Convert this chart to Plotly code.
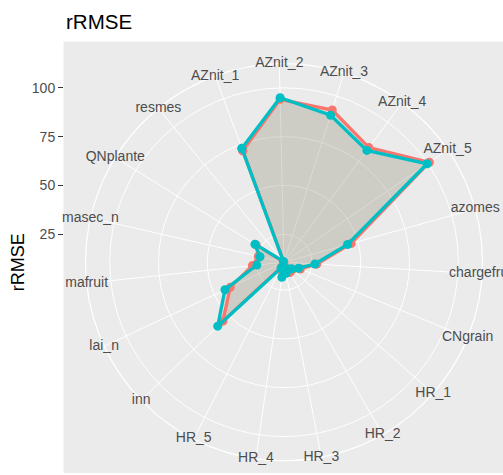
import plotly.graph_objects as go

# Variables, clockwise from the top of the radar
categories = ["AZnit_1", "AZnit_2", "AZnit_3", "AZnit_4", "AZnit_5", "azomes",
              "chargefruit", "CNgrain", "HR_1", "HR_2", "HR_3", "HR_4", "HR_5",
              "inn", "lai_n", "mafruit", "masec_n", "QNplante", "resmes"]

# rRMSE of the two model versions
rrmse_red = [71.5, 94.2, 92.5, 83.8, 101.1, 46.4, 27.5, 19.8, 16.5, 16.8, 15.5,
             16.0, 13.5, 54.2, 41.1, 27.0, 24.2, 27.5, 10.7]
rrmse_teal = [72.9, 95.0, 89.7, 82.0, 99.7, 44.5, 26.6, 18.8, 15.8, 14.5, 16.5,
              18.5, 14.0, 57.9, 44.1, 24.7, 23.3, 28.2, 11.2]

radial_ticks = [25, 50, 75, 100]

RED = "#F8766D"
TEAL = "#00BFC4"
FILL = "rgba(127,127,102,0.15)"
TXT = "#4D4D4D"
FONT = "Liberation Sans, Arial, sans-serif"

# Figure / panel geometry (pixels)
W, H = 503, 475
CX, CY, R_PX = 284.0, 262.2, 198.5
PANEL_LEFT, PANEL_TOP, PANEL_BOTTOM = 63.5, 41.5, 473.0
RMIN, RMAX = 10.7, 112.4
ppu = R_PX / (RMAX - RMIN)

def closed(vals):
    return list(vals) + [vals[0]]

theta_c = closed(categories)

fig = go.Figure()

# shaded areas first, lines and points on top
for vals in (rrmse_red, rrmse_teal):
    fig.add_trace(go.Scatterpolar(
        r=closed(vals), theta=theta_c, mode="lines", fill="toself",
        fillcolor=FILL, line=dict(width=0), hoverinfo="skip", showlegend=False))

for vals, col in ((rrmse_red, RED), (rrmse_teal, TEAL)):
    fig.add_trace(go.Scatterpolar(
        r=closed(vals), theta=theta_c, mode="lines+markers",
        line=dict(color=col, width=3.3), marker=dict(color=col, size=9),
        hoverinfo="skip", showlegend=False))

# variable names centred on the outer ring
fig.add_trace(go.Scatterpolar(
    r=[RMAX] * len(categories), theta=categories, mode="text", text=categories,
    textposition="middle center", textfont=dict(size=14, color=TXT, family=FONT),
    cliponaxis=False, hoverinfo="skip", showlegend=False))

# carrier trace for the left radius axis
fig.add_trace(go.Scatter(x=[], y=[], xaxis="x", yaxis="y", showlegend=False,
                         hoverinfo="skip"))

fig.update_layout(
    width=W, height=H,
    margin=dict(l=0, r=0, t=0, b=0),
    paper_bgcolor="white",
    plot_bgcolor="#EBEBEB",
    font=dict(family=FONT, color=TXT),
    xaxis=dict(domain=[PANEL_LEFT / W, 1], range=[0, 1], visible=False),
    yaxis=dict(
        domain=[(H - PANEL_BOTTOM) / H, (H - PANEL_TOP) / H],
        range=[RMIN - (PANEL_BOTTOM - CY) / ppu, RMIN + (CY - PANEL_TOP) / ppu],
        tickvals=radial_ticks, ticks="outside", ticklen=4.5, tickwidth=1.2,
        tickcolor="#333333", tickfont=dict(size=14, color=TXT, family=FONT),
        showgrid=False, zeroline=False, showline=False, fixedrange=True),
    polar=dict(
        domain=dict(x=[(CX - R_PX) / W, (CX + R_PX) / W],
                    y=[(H - CY - R_PX) / H, (H - CY + R_PX) / H]),
        bgcolor="rgba(0,0,0,0)",
        radialaxis=dict(range=[RMIN, RMAX], tickvals=radial_ticks,
                        showticklabels=False, ticks="", showline=False,
                        gridcolor="white", gridwidth=1.2, layer="below traces"),
        angularaxis=dict(type="category", categoryorder="array",
                         categoryarray=categories, rotation=110.3,
                         direction="clockwise", showticklabels=False, ticks="",
                         showline=True, linecolor="white", linewidth=1.2,
                         gridcolor="white", gridwidth=1.2, layer="below traces"),
    ),
    annotations=[
        dict(text="rRMSE", x=PANEL_LEFT / W, y=1 - 22 / H, xref="paper",
             yref="paper", xanchor="left", yanchor="middle", showarrow=False,
             font=dict(size=20.5, color="black", family=FONT)),
        dict(text="rRMSE", x=18 / W, y=1 - CY / H, xref="paper", yref="paper",
             xanchor="center", yanchor="middle", textangle=-90, showarrow=False,
             font=dict(size=18, color="black", family=FONT)),
    ],
)

fig.write_html("out.html")
